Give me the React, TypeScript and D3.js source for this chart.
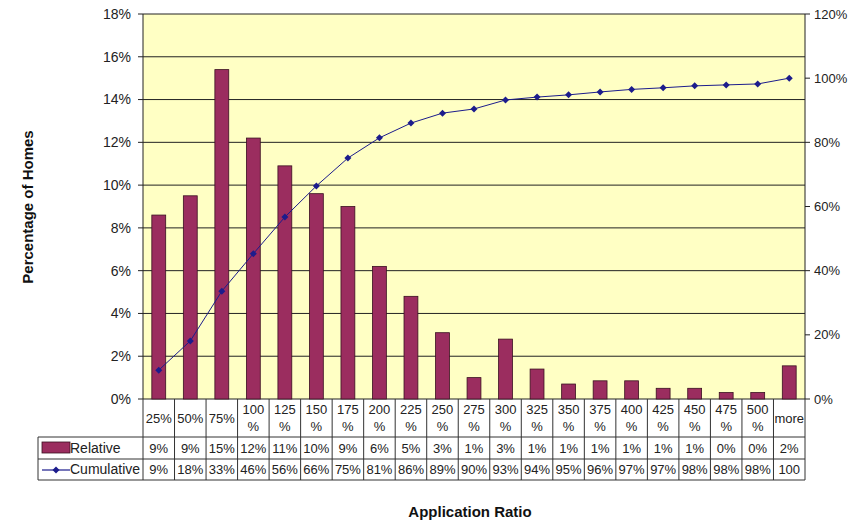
import React from "react";
import * as d3 from "d3";

const categories = ["25%", "50%", "75%", "100%", "125%", "150%", "175%", "200%", "225%", "250%", "275%", "300%", "325%", "350%", "375%", "400%", "425%", "450%", "475%", "500%", "more"];
const relative = [8.6, 9.5, 15.4, 12.2, 10.9, 9.6, 9.0, 6.2, 4.8, 3.1, 1.0, 2.8, 1.4, 0.7, 0.85, 0.85, 0.5, 0.5, 0.3, 0.3, 1.55];
const cumulative = [9.0, 18.1, 33.6, 45.3, 56.7, 66.4, 75.1, 81.4, 86.0, 89.1, 90.4, 93.2, 94.1, 94.8, 95.7, 96.5, 97.0, 97.6, 97.9, 98.2, 100];
const relativeLabels = ["9%", "9%", "15%", "12%", "11%", "10%", "9%", "6%", "5%", "3%", "1%", "3%", "1%", "1%", "1%", "1%", "1%", "1%", "0%", "0%", "2%"];
const cumulativeLabels = ["9%", "18%", "33%", "46%", "56%", "66%", "75%", "81%", "86%", "89%", "90%", "93%", "94%", "95%", "96%", "97%", "97%", "98%", "98%", "98%", "100"];
const leftTicks = [0, 2, 4, 6, 8, 10, 12, 14, 16, 18];
const rightTicks = [0, 20, 40, 60, 80, 100, 120];

const W = 854;
const H = 523;
const plot = { left: 143, right: 805, top: 14, bottom: 399 };
const table = { legendLeft: 38, headBottom: 437, relBottom: 459, cumBottom: 480 };
const barColor = "#9b2d5f";
const lineColor = "#1c1c8c";
const font = "'Liberation Sans', Arial, sans-serif";

export default function App() {
  const x = d3.scaleBand<string>().domain(categories).range([plot.left, plot.right]).paddingInner(0).paddingOuter(0);
  const yL = d3.scaleLinear().domain([0, 18]).range([plot.bottom, plot.top]);
  const yR = d3.scaleLinear().domain([0, 120]).range([plot.bottom, plot.top]);
  const bw = x.bandwidth() * 0.44;
  const cx = (c: string) => (x(c) as number) + x.bandwidth() / 2;

  const line = d3
    .line<number>()
    .x((_, i) => cx(categories[i]))
    .y((d) => yR(d));

  const diamond = (px: number, py: number, s: number) =>
    `M${px},${py - s}L${px + s},${py}L${px},${py + s}L${px - s},${py}Z`;

  return (
    <svg width={W} height={H} style={{ position: "absolute", left: 0, top: 0, background: "#fff" }} fontFamily={font}>
      {/* plot background */}
      <rect x={plot.left} y={plot.top} width={plot.right - plot.left} height={plot.bottom - plot.top} fill="#ffffc4" />

      {/* gridlines */}
      {leftTicks.map((t) => (
        <line key={"g" + t} x1={plot.left} x2={plot.right} y1={yL(t)} y2={yL(t)} stroke="#222" strokeWidth={1} />
      ))}

      {/* bars */}
      {relative.map((v, i) => (
        <rect
          key={"b" + i}
          x={cx(categories[i]) - bw / 2}
          y={yL(v)}
          width={bw}
          height={plot.bottom - yL(v)}
          fill={barColor}
          stroke="#3a1020"
          strokeWidth={0.8}
        />
      ))}

      {/* cumulative line */}
      <path d={line(cumulative) || ""} fill="none" stroke={lineColor} strokeWidth={1} />
      {cumulative.map((v, i) => (
        <path key={"m" + i} d={diamond(cx(categories[i]), yR(v), 3.5)} fill={lineColor} />
      ))}

      {/* axes */}
      <line x1={plot.left} x2={plot.left} y1={plot.top} y2={plot.bottom} stroke="#222" />
      <line x1={plot.right} x2={plot.right} y1={plot.top} y2={plot.bottom} stroke="#222" />
      {leftTicks.map((t) => (
        <g key={"lt" + t}>
          <line x1={plot.left - 5} x2={plot.left} y1={yL(t)} y2={yL(t)} stroke="#222" />
          <text x={plot.left - 12} y={yL(t)} dy="0.35em" textAnchor="end" fontSize={14} fill="#222">
            {t}%
          </text>
        </g>
      ))}
      {rightTicks.map((t) => (
        <g key={"rt" + t}>
          <line x1={plot.right} x2={plot.right + 5} y1={yR(t)} y2={yR(t)} stroke="#222" />
          <text x={plot.right + 9} y={yR(t)} dy="0.35em" textAnchor="start" fontSize={13} fill="#222">
            {t}%
          </text>
        </g>
      ))}

      {/* data table */}
      <g stroke="#333" strokeWidth={1}>
        <line x1={table.legendLeft} x2={plot.right} y1={table.headBottom} y2={table.headBottom} />
        <line x1={table.legendLeft} x2={plot.right} y1={table.relBottom} y2={table.relBottom} />
        <line x1={table.legendLeft} x2={plot.right} y1={table.cumBottom} y2={table.cumBottom} />
        <line x1={table.legendLeft} x2={table.legendLeft} y1={table.headBottom} y2={table.cumBottom} />
        {categories.map((c) => (
          <line key={"v" + c} x1={x(c) as number} x2={x(c) as number} y1={plot.bottom} y2={table.cumBottom} />
        ))}
        <line x1={plot.right} x2={plot.right} y1={plot.bottom} y2={table.cumBottom} />
      </g>

      {categories.map((c) => {
        const m = c.match(/^(\d{3})%$/);
        return m ? (
          <text key={"h" + c} x={cx(c)} textAnchor="middle" fontSize={13} fill="#222">
            <tspan x={cx(c)} y={414}>{m[1]}</tspan>
            <tspan x={cx(c)} y={431}>%</tspan>
          </text>
        ) : (
          <text key={"h" + c} x={cx(c)} y={418} dy="0.35em" textAnchor="middle" fontSize={13} fill="#222">
            {c}
          </text>
        );
      })}
      {relativeLabels.map((l, i) => (
        <text key={"r" + i} x={cx(categories[i])} y={(table.headBottom + table.relBottom) / 2} dy="0.35em" textAnchor="middle" fontSize={13} fill="#222">
          {l}
        </text>
      ))}
      {cumulativeLabels.map((l, i) => (
        <text key={"c" + i} x={cx(categories[i])} y={(table.relBottom + table.cumBottom) / 2} dy="0.35em" textAnchor="middle" fontSize={13} fill="#222">
          {l}
        </text>
      ))}

      {/* legend keys */}
      <rect x={42} y={442} width={28} height={11} fill={barColor} stroke="#3a1020" strokeWidth={0.8} />
      <text x={70} y={(table.headBottom + table.relBottom) / 2} dy="0.35em" fontSize={14} fill="#222">Relative</text>
      <line x1={42} x2={70} y1={470} y2={470} stroke={lineColor} strokeWidth={1.2} />
      <path d={diamond(56, 470, 3.5)} fill={lineColor} />
      <text x={70} y={(table.relBottom + table.cumBottom) / 2} dy="0.35em" fontSize={14} fill="#222">Cumulative</text>

      {/* axis titles */}
      <text transform="translate(33,207) rotate(-90)" textAnchor="middle" fontSize={15} fontWeight="bold" fill="#111">
        Percentage of Homes
      </text>
      <text x={470} y={517} textAnchor="middle" fontSize={15} fontWeight="bold" fill="#111">
        Application Ratio
      </text>
    </svg>
  );
}
